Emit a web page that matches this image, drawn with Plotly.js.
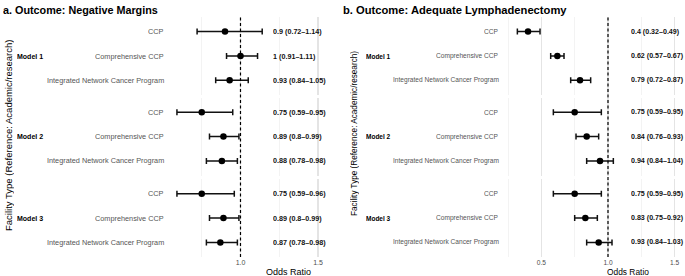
<!DOCTYPE html>
<html>
<head>
<meta charset="utf-8">
<script src="https://cdn.plot.ly/plotly-3.0.1.min.js"></script>
<style>
  html, body { margin: 0; padding: 0; background: #fff; }
  #chart { width: 685px; height: 276px; }
  /* grayscale text antialiasing */
  #chart svg text { opacity: 0.995; }
</style>
</head>
<body>
<div id="chart"></div>
<script>
// Facility types (reference: academic/research) and adjustment models
const facility = ['CCP', 'Comprehensive CCP', 'Integrated Network Cancer Program'];
const models = ['Model 1', 'Model 2', 'Model 3'];

// Outcome a: negative margins — odds ratio with 95% CI, ordered model by model
const marginsOR = [0.9, 1, 0.93, 0.75, 0.89, 0.88, 0.75, 0.89, 0.87];
const marginsLo = [0.72, 0.91, 0.84, 0.59, 0.8, 0.78, 0.59, 0.8, 0.78];
const marginsHi = [1.14, 1.11, 1.05, 0.95, 0.99, 0.98, 0.96, 0.99, 0.98];

// Outcome b: adequate lymphadenectomy
const lymphOR = [0.4, 0.62, 0.79, 0.75, 0.84, 0.94, 0.75, 0.83, 0.93];
const lymphLo = [0.32, 0.57, 0.72, 0.59, 0.76, 0.84, 0.59, 0.75, 0.84];
const lymphHi = [0.49, 0.67, 0.87, 0.95, 0.93, 1.04, 0.95, 0.92, 1.03];

const xTicks = [0.5, 1.0, 1.5];
const xMinor = [0.25, 0.75, 1.25, 1.75];
const nullOR = 1;

const W = 685, H = 276;
const FONT = 'Liberation Sans, Arial, Helvetica, sans-serif';
const px = v => v / W;
const py = v => 1 - v / H;

// facet rows (one per model), in pixel space
const facetPx = [[17, 95], [97.5, 175.5], [179, 257]];
const yNames = ['y', 'y2', 'y3'];

// panel specifications
const panels = [
  {
    title: 'a. Outcome: Negative Margins',
    or: marginsOR, lo: marginsLo, hi: marginsHi,
    xaxis: 'x', domPx: [168, 335], range: [0.5323, 1.6097],
    titleX: 3, titleSize: 10.8,
    yTitleX: 8, yTitleY: 136, yTitleSize: 9.5,
    modelX: 16, modelSize: 7,
    labelRight: 165, labelSize: 7.3,
    estX: 272, estSize: 7.2,
    tickSize: 7, oddsX: 288, oddsSize: 9
  },
  {
    title: 'b. Outcome: Adequate Lymphadenectomy',
    or: lymphOR, lo: lymphLo, hi: lymphHi,
    xaxis: 'x2', domPx: [503, 685], range: [0.2123, 1.5776],
    titleX: 343, titleSize: 11.2,
    yTitleX: 355, yTitleY: 134, yTitleSize: 8.2,
    modelX: 365, modelSize: 6.5,
    labelRight: 500, labelSize: 6.6,
    estX: 630, estSize: 7.1,
    tickSize: 6.6, oddsX: 628, oddsSize: 8.4
  }
];

const traces = [];
const annotations = [];
const shapes = [];
const layout = {
  width: W, height: H,
  margin: { l: 0, r: 0, t: 0, b: 0, pad: 0 },
  paper_bgcolor: '#ffffff',
  plot_bgcolor: 'rgba(0,0,0,0)',
  showlegend: false,
  font: { family: FONT, color: '#000' }
};

// y axes: one per model facet, shared across both panels
facetPx.forEach((f, k) => {
  const key = k === 0 ? 'yaxis' : 'yaxis' + (k + 1);
  layout[key] = {
    domain: [py(f[1]), py(f[0])],
    range: [3.6, 0.4],
    showgrid: false, zeroline: false, showline: false,
    showticklabels: false, ticks: '', fixedrange: true,
    anchor: 'x'
  };
});

panels.forEach(p => {
  const key = p.xaxis === 'x' ? 'xaxis' : 'xaxis2';
  layout[key] = {
    domain: [px(p.domPx[0]), px(p.domPx[1])],
    range: p.range,
    anchor: 'y3',
    tickvals: xTicks,
    tickformat: '.1f',
    ticks: '', ticklen: 0,
    tickfont: { family: FONT, size: p.tickSize, color: '#4d4d4d' },
    showgrid: true, gridcolor: '#e4e4e4', gridwidth: 1.1,
    minor: { tickvals: xMinor, showgrid: true, gridcolor: '#eeeeee', gridwidth: 0.7, ticks: '' },
    zeroline: false, showline: false, automargin: false, fixedrange: true
  };

  // panel title
  annotations.push({
    text: '<b>' + p.title + '</b>', xref: 'paper', yref: 'paper',
    x: px(p.titleX - 1), y: py(10), xanchor: 'left', yanchor: 'middle',
    showarrow: false, borderpad: 0,
    font: { family: FONT, size: p.titleSize, color: '#000' }
  });
  // y axis title
  annotations.push({
    text: 'Facility Type (Reference: Academic/research)', xref: 'paper', yref: 'paper',
    x: px(p.yTitleX), y: py(p.yTitleY), xanchor: 'center', yanchor: 'middle',
    textangle: -90, showarrow: false, borderpad: 0,
    font: { family: FONT, size: p.yTitleSize, color: '#000' }
  });
  // x axis title
  annotations.push({
    text: 'Odds Ratio', xref: 'paper', yref: 'paper',
    x: px(p.oddsX), y: py(272), xanchor: 'center', yanchor: 'middle',
    showarrow: false, borderpad: 0,
    font: { family: FONT, size: p.oddsSize, color: '#000' }
  });
  // reference line at OR = 1
  shapes.push({
    type: 'line', xref: p.xaxis, yref: 'paper',
    x0: nullOR, x1: nullOR, y0: py(facetPx[2][1]), y1: py(facetPx[0][0]),
    line: { color: '#000', width: 1.2, dash: '3px,2.5px' }
  });

  models.forEach((m, k) => {
    const idx = [0, 1, 2].map(r => k * 3 + r);
    const est = idx.map(i => p.or[i]);
    traces.push({
      type: 'scatter', mode: 'markers',
      xaxis: p.xaxis, yaxis: yNames[k],
      x: est, y: [1, 2, 3],
      marker: { color: '#000', size: 6.5 },
      error_x: {
        type: 'data', symmetric: false,
        array: idx.map(i => p.hi[i] - p.or[i]),
        arrayminus: idx.map(i => p.or[i] - p.lo[i]),
        color: '#111', thickness: 1.5, width: 3
      },
      cliponaxis: false, hoverinfo: 'skip'
    });

    // model label
    annotations.push({
      text: '<b>' + m + '</b>', xref: 'paper', yref: yNames[k],
      x: px(p.modelX), y: 2, xanchor: 'left', yanchor: 'middle',
      showarrow: false, borderpad: 0,
      font: { family: FONT, size: p.modelSize, color: '#000' }
    });

    facility.forEach((f, r) => {
      const i = k * 3 + r;
      annotations.push({
        text: f, xref: 'paper', yref: yNames[k],
        x: px(p.labelRight), y: r + 1, xanchor: 'right', yanchor: 'middle',
        showarrow: false, borderpad: 0,
        font: { family: FONT, size: p.labelSize, color: '#555555' }
      });
      annotations.push({
        text: '<b>' + p.or[i] + ' (' + p.lo[i] + '\u2013' + p.hi[i] + ')</b>',
        xref: 'paper', yref: yNames[k],
        x: px(p.estX), y: r + 1, xanchor: 'left', yanchor: 'middle',
        showarrow: false, borderpad: 0,
        font: { family: FONT, size: p.estSize, color: '#111' }
      });
    });
  });
});

layout.annotations = annotations;
layout.shapes = shapes;

Plotly.newPlot('chart', traces, layout, { staticPlot: true, displayModeBar: false });
</script>
</body>
</html>
